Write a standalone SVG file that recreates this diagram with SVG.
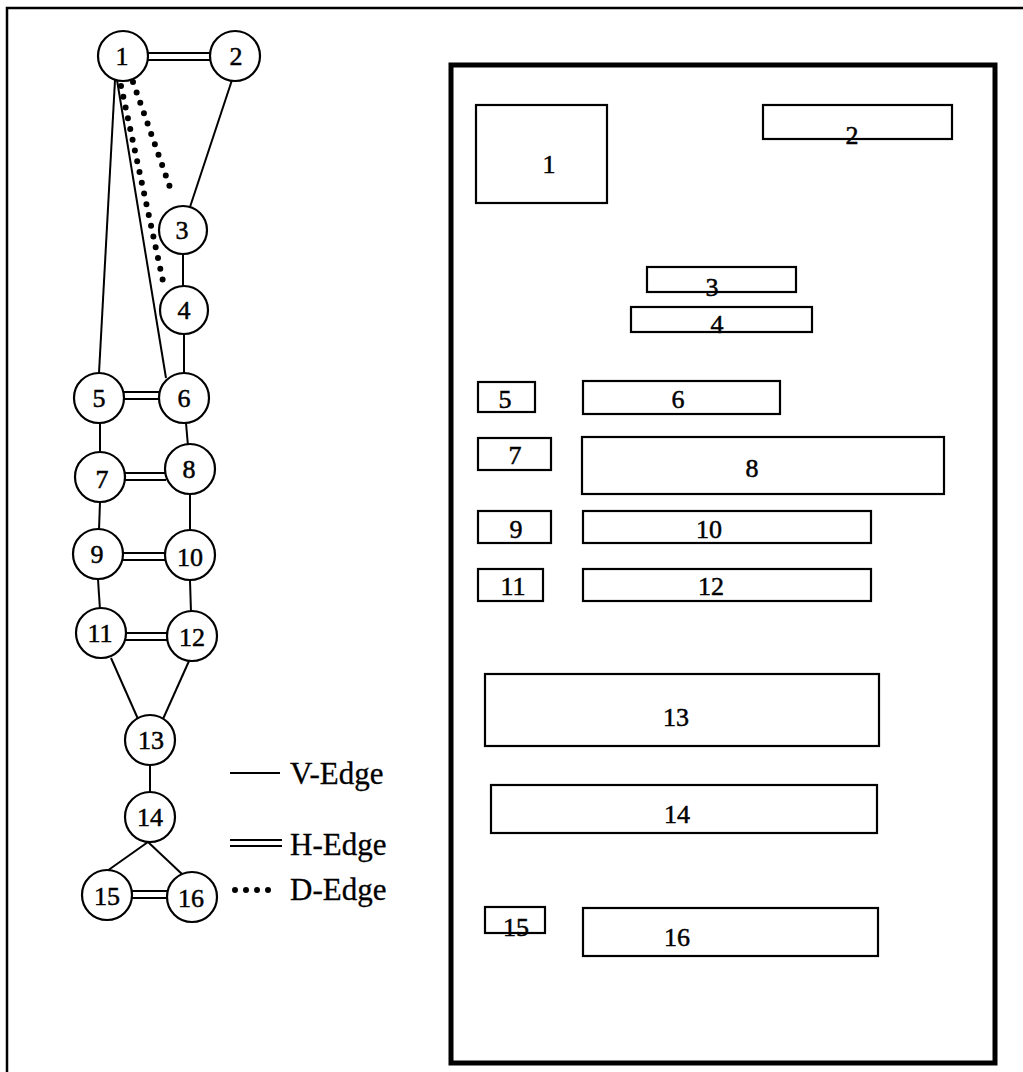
<svg xmlns="http://www.w3.org/2000/svg" width="1023" height="1072" viewBox="0 0 1023 1072">
<style>
.c{fill:#fff;stroke:#000;stroke-width:2.2}
.r{fill:#fff;stroke:#000;stroke-width:2.2}
.v{stroke:#000;stroke-width:2;fill:none}
.d{stroke:#000;stroke-width:6;fill:none;stroke-linecap:round;stroke-dasharray:0 11}
text{font-family:"Liberation Serif","Times New Roman",serif;fill:#000;stroke:#000;stroke-width:0.5;text-anchor:middle}
.n{font-size:26px}
.m{font-size:26px}
.l{font-size:31px;text-anchor:start;stroke-width:0.3}
</style>
<rect width="1023" height="1072" fill="#fff"/>
<path d="M7 1072 V8 H1023" fill="none" stroke="#000" stroke-width="2.5"/>
<rect x="451" y="65" width="544" height="998" fill="none" stroke="#000" stroke-width="5"/>
<g id="connectors">
<line class="v" x1="147" y1="53" x2="211" y2="53"/><line class="v" x1="147" y1="60" x2="211" y2="60"/>
<line class="v" x1="232" y1="80" x2="190" y2="207"/>
<line class="v" x1="115" y1="80" x2="99" y2="373"/>
<line class="v" x1="117" y1="80" x2="166" y2="378"/>
<line class="d" x1="133" y1="82" x2="173" y2="196"/>
<line class="d" x1="121" y1="86" x2="164" y2="286"/>
<line class="v" x1="183" y1="254" x2="183" y2="286"/>
<line class="v" x1="184" y1="334" x2="184" y2="374"/>
<line class="v" x1="123" y1="392" x2="160" y2="392"/><line class="v" x1="123" y1="399" x2="160" y2="399"/>
<line class="v" x1="100" y1="423" x2="100" y2="452"/>
<line class="v" x1="186" y1="423" x2="188" y2="446"/>
<line class="v" x1="124" y1="473" x2="166" y2="473"/><line class="v" x1="124" y1="480" x2="166" y2="480"/>
<line class="v" x1="100" y1="502" x2="99" y2="530"/>
<line class="v" x1="190" y1="494" x2="190" y2="530"/>
<line class="v" x1="122" y1="553" x2="166" y2="553"/><line class="v" x1="122" y1="560" x2="166" y2="560"/>
<line class="v" x1="98" y1="579" x2="100" y2="610"/>
<line class="v" x1="190" y1="581" x2="191" y2="612"/>
<line class="v" x1="125" y1="633" x2="168" y2="633"/><line class="v" x1="125" y1="640" x2="168" y2="640"/>
<line class="v" x1="111" y1="658" x2="138" y2="719"/>
<line class="v" x1="189" y1="661" x2="163" y2="719"/>
<line class="v" x1="150" y1="765" x2="150" y2="792"/>
<line class="v" x1="148" y1="842" x2="107" y2="871"/>
<line class="v" x1="148" y1="842" x2="183" y2="875"/>
<line class="v" x1="131" y1="891" x2="168" y2="891"/><line class="v" x1="131" y1="898" x2="168" y2="898"/>
</g>
<g id="legend">
<line class="v" x1="230" y1="773" x2="280" y2="773"/>
<text class="l" x="290" y="784">V-Edge</text>
<line class="v" x1="230" y1="840" x2="282" y2="840"/><line class="v" x1="230" y1="846" x2="282" y2="846"/>
<text class="l" x="290" y="855">H-Edge</text>
<line class="d" x1="235" y1="890" x2="272" y2="890"/>
<text class="l" x="290" y="900">D-Edge</text>
</g>
<g id="n1"><circle class="c" cx="123" cy="56" r="25"/><text class="n" x="122" y="65">1</text></g>
<g id="n2"><circle class="c" cx="235" cy="56" r="25"/><text class="n" x="236" y="65">2</text></g>
<g id="n3"><circle class="c" cx="183" cy="230" r="24"/><text class="n" x="182" y="239">3</text></g>
<g id="n4"><circle class="c" cx="184" cy="310" r="24"/><text class="n" x="184" y="319">4</text></g>
<g id="n5"><circle class="c" cx="99" cy="398" r="25"/><text class="n" x="99" y="407">5</text></g>
<g id="n6"><circle class="c" cx="184" cy="398" r="25"/><text class="n" x="184" y="407">6</text></g>
<g id="n7"><circle class="c" cx="100" cy="477" r="25"/><text class="n" x="102" y="488">7</text></g>
<g id="n8"><circle class="c" cx="190" cy="469" r="25"/><text class="n" x="189" y="478">8</text></g>
<g id="n9"><circle class="c" cx="98" cy="554" r="25"/><text class="n" x="97" y="563">9</text></g>
<g id="n10"><circle class="c" cx="190" cy="555" r="25"/><text class="n" x="190" y="566">10</text></g>
<g id="n11"><circle class="c" cx="101" cy="633" r="25"/><text class="n" x="100" y="642">11</text></g>
<g id="n12"><circle class="c" cx="192" cy="636" r="25"/><text class="n" x="192" y="646">12</text></g>
<g id="n13"><circle class="c" cx="150" cy="740" r="25"/><text class="n" x="151" y="749">13</text></g>
<g id="n14"><circle class="c" cx="150" cy="817" r="25"/><text class="n" x="150" y="826">14</text></g>
<g id="n15"><circle class="c" cx="107" cy="895" r="25"/><text class="n" x="107" y="905">15</text></g>
<g id="n16"><circle class="c" cx="192" cy="897" r="25"/><text class="n" x="191" y="907">16</text></g>
<g id="r1"><rect class="r" x="476" y="105" width="131" height="98"/><text class="m" x="549" y="173">1</text></g>
<g id="r2"><rect class="r" x="763" y="105" width="189" height="34"/><text class="m" x="852" y="144">2</text></g>
<g id="r3"><rect class="r" x="647" y="267" width="149" height="25"/><text class="m" x="712" y="296">3</text></g>
<g id="r4"><rect class="r" x="631" y="307" width="181" height="25"/><text class="m" x="717" y="333">4</text></g>
<g id="r5"><rect class="r" x="478" y="382" width="57" height="30"/><text class="m" x="505" y="408">5</text></g>
<g id="r6"><rect class="r" x="583" y="381" width="197" height="33"/><text class="m" x="678" y="408">6</text></g>
<g id="r7"><rect class="r" x="478" y="438" width="73" height="32"/><text class="m" x="515" y="464">7</text></g>
<g id="r8"><rect class="r" x="582" y="437" width="362" height="57"/><text class="m" x="752" y="477">8</text></g>
<g id="r9"><rect class="r" x="478" y="511" width="73" height="32"/><text class="m" x="516" y="538">9</text></g>
<g id="r10"><rect class="r" x="583" y="511" width="288" height="32"/><text class="m" x="709" y="538">10</text></g>
<g id="r11"><rect class="r" x="478" y="569" width="65" height="32"/><text class="m" x="513" y="595">11</text></g>
<g id="r12"><rect class="r" x="583" y="569" width="288" height="32"/><text class="m" x="711" y="595">12</text></g>
<g id="r13"><rect class="r" x="485" y="674" width="394" height="72"/><text class="m" x="676" y="726">13</text></g>
<g id="r14"><rect class="r" x="491" y="785" width="386" height="48"/><text class="m" x="677" y="823">14</text></g>
<g id="r15"><rect class="r" x="485" y="907" width="60" height="26"/><text class="m" x="516" y="936">15</text></g>
<g id="r16"><rect class="r" x="583" y="908" width="295" height="48"/><text class="m" x="677" y="946">16</text></g>
</svg>
